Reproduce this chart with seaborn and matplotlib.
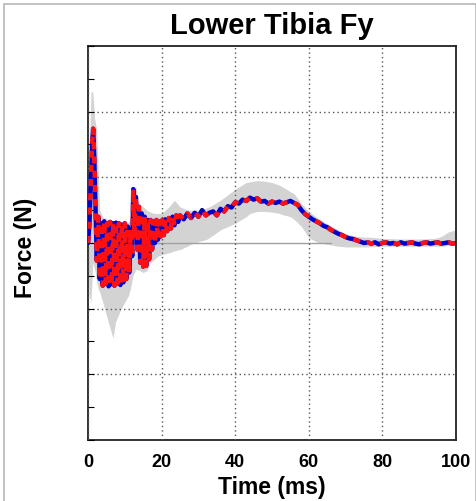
import matplotlib
matplotlib.use("Agg")
import matplotlib.pyplot as plt
import numpy as np
import pandas as pd
import seaborn as sb
from matplotlib.patches import Rectangle
from matplotlib.ticker import MultipleLocator, NullFormatter

# Force trace (kN-ish units, labels hidden on chart)
time_ms = [0.0, 0.4, 0.8, 1.1, 1.4, 1.7, 2.0, 2.4, 2.8, 3.2, 3.6, 4.0, 4.4, 4.8, 5.2, 5.6,
           6.0, 6.4, 6.8, 7.2, 7.6, 8.0, 8.4, 8.8, 9.2, 9.6, 10.0, 10.4, 10.8, 11.2, 11.6,
           12.0, 12.3, 12.6, 13.0, 13.4, 13.8, 14.2, 14.6, 15.0, 15.4, 15.8, 16.2, 16.6,
           17.0, 17.4, 17.8, 18.2, 18.6, 19.0, 19.4, 19.8, 20.2, 20.6, 21.0, 21.5, 22.0,
           22.5, 23.0, 23.5, 24.0, 24.5, 25.0, 26, 27, 28, 29, 30, 31, 32, 33, 34, 35, 36,
           37, 38, 39, 40, 41, 42, 43, 44, 45, 46, 47, 48, 49, 50, 51, 52, 53, 54, 55, 56,
           57, 58, 59, 60, 61, 62, 63, 64, 65, 66, 67, 68, 69, 70, 71, 72, 73, 74, 75, 76,
           77, 78, 79, 80, 81, 82, 83, 84, 85, 86, 87, 88, 89, 90, 91, 92, 93, 94, 95, 96,
           97, 98, 99, 100]
force = [0.0, 0.3, 1.0, 1.5, 1.74, 1.3, 0.64, -0.27, 0.40, -0.55, 0.30, -0.65, 0.33, -0.62,
         0.30, -0.66, 0.32, -0.63, 0.30, -0.65, 0.31, -0.62, 0.30, -0.64, 0.28, -0.60,
         0.30, -0.55, 0.25, -0.45, 0.20, -0.20, 0.82, 0.10, 0.70, -0.10, 0.55, -0.30,
         0.45, -0.36, 0.40, -0.35, 0.35, -0.25, 0.35, -0.10, 0.33, 0.00, 0.35, 0.05,
         0.33, 0.10, 0.35, 0.12, 0.36, 0.18, 0.38, 0.22, 0.40, 0.27, 0.42, 0.32, 0.42,
         0.36, 0.45, 0.38, 0.46, 0.40, 0.50, 0.42, 0.46, 0.48, 0.42, 0.52, 0.48, 0.56,
         0.54, 0.62, 0.60, 0.66, 0.64, 0.69, 0.66, 0.68, 0.63, 0.64, 0.60, 0.63, 0.61,
         0.63, 0.60, 0.62, 0.64, 0.61, 0.58, 0.50, 0.44, 0.40, 0.36, 0.33, 0.30, 0.26,
         0.24, 0.20, 0.17, 0.14, 0.12, 0.09, 0.07, 0.06, 0.04, 0.02, 0.00, 0.01, -0.01,
         0.01, -0.02, 0.00, 0.01, -0.01, 0.00, -0.02, 0.01, -0.01, 0.00, 0.01, -0.01,
         -0.02, 0.00, 0.01, -0.01, 0.00, 0.01, -0.01, 0.00, 0.01, -0.01, 0.00]

# Gray corridor of other tests
band_t = [0, 0.3, 0.8, 1.3, 1.8, 2.4, 2.8, 3.2, 4, 4.5, 6, 6.8, 7.5, 9, 10, 11, 11.5, 12.2,
          13, 14, 15, 16, 17, 18, 19, 20, 22, 23.5, 25, 27, 28, 30, 32, 33, 36, 40, 43, 44,
          46, 48, 50, 52, 53, 55, 56, 58, 60, 62, 63, 65, 66, 68, 70, 73, 75, 76, 80, 85,
          90, 94, 95, 96, 98, 100]
band_hi = [0.0, 1.2, 2.3, 2.3, 1.9, 1.7, 1.0, 0.5, 0.4, 0.38, 0.35, 0.33, 0.32, 0.3, 0.3,
           0.32, 0.35, 0.85, 0.85, 0.6, 0.55, 0.5, 0.47, 0.45, 0.45, 0.45, 0.55, 0.65, 0.55,
           0.5, 0.5, 0.5, 0.53, 0.55, 0.65, 0.82, 0.92, 0.93, 0.95, 0.94, 0.92, 0.88, 0.85,
           0.78, 0.75, 0.6, 0.48, 0.4, 0.36, 0.29, 0.26, 0.2, 0.14, 0.1, 0.09, 0.09, 0.07,
           0.06, 0.06, 0.07, 0.08, 0.1, 0.17, 0.2]
band_lo = [-0.1, -0.8, -0.9, -0.3, -0.4, -0.6, -0.7, -0.75, -0.9, -1.0, -1.3, -1.45, -1.2,
           -1.0, -0.9, -0.8, -0.7, -0.5, -0.4, -0.42, -0.45, -0.42, -0.3, -0.25, -0.2, -0.18,
           -0.15, -0.12, -0.1, -0.05, -0.02, 0.02, 0.05, 0.08, 0.2, 0.3, 0.4, 0.45, 0.48,
           0.48, 0.47, 0.45, 0.43, 0.4, 0.36, 0.25, 0.08, 0.02, 0.0, -0.02, -0.03, -0.05,
           -0.06, -0.06, -0.06, -0.06, -0.05, -0.05, -0.05, -0.05, -0.05, -0.05, -0.04, -0.03]

x_ticks = [0, 20, 40, 60, 80, 100]

df = pd.DataFrame({"Time": time_ms, "Force": force})

sb.set_style("white")
plt.rcParams['font.family'] = ['Liberation Sans', 'DejaVu Sans']
plt.rcParams['text.color'] = 'black'
plt.rcParams['axes.labelcolor'] = 'black'
plt.rcParams['xtick.color'] = 'black'
plt.rcParams['ytick.color'] = 'black'

fig = plt.figure(figsize=(4.77, 5.02), dpi=100)
ax = fig.add_axes([0.1845, 0.1215, 0.7715, 0.785])

ax.fill_between(band_t, band_lo, band_hi, color='#d3d3d3', lw=0, zorder=1)
ax.plot([0, 66], [0, 0], color='#a0a0a0', lw=1, zorder=1.5)

sb.lineplot(data=df, x="Time", y="Force", color='#0000cc', lw=3.2, ax=ax, zorder=3)
sb.lineplot(data=df, x="Time", y="Force", color='#ff1010', lw=3.2, ax=ax, zorder=4,
            linestyle=(0, (1.6, 1.6)))

ax.set_xlim(0, 100)
ax.set_ylim(-3, 3)
ax.set_xticks(x_ticks)
ax.xaxis.set_minor_locator(MultipleLocator(10))
ax.set_yticks([-2, -1, 1, 2])
ax.yaxis.set_minor_locator(MultipleLocator(0.5))
ax.yaxis.set_major_formatter(NullFormatter())
ax.tick_params(axis='x', which='both', direction='in', length=4, width=0.8,
               labelsize=13, pad=9, top=False)
ax.tick_params(axis='y', which='both', direction='in', length=4, width=0.8,
               right=False, left=True)
for lbl in ax.get_xticklabels():
    lbl.set_fontweight('bold')

ax.grid(True, which='major', color='#555555', lw=1.0, linestyle=(0, (1, 2.2)))
ax.set_axisbelow(False)
for gl in ax.get_xgridlines() + ax.get_ygridlines():
    gl.set_zorder(2)

for s in ax.spines.values():
    s.set_color('#222222')
    s.set_linewidth(1.3)

ax.set_title("Lower Tibia Fy", fontsize=21, fontweight='bold', pad=9)
ax.set_xlabel("Time (ms)", fontsize=16.5, fontweight='bold', labelpad=4)
ax.set_ylabel("Force (N)", fontsize=16.5, fontweight='bold')
ax.yaxis.set_label_coords(-0.138, 0.49)

fig.patches.append(Rectangle((4 / 477, -0.01), 472 / 477, 1 - 5 / 502 + 0.01,
                             transform=fig.transFigure, fill=False,
                             edgecolor='#b8b8b8', lw=1.2))

fig.savefig("out.png", dpi=100)
